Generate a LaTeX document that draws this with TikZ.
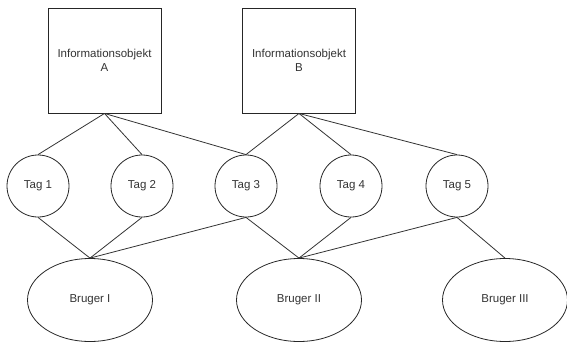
\documentclass[tikz,border=0pt]{standalone}
\usepackage{fontspec}
\setmainfont{Liberation Sans}
\usetikzlibrary{shapes.geometric}
\begin{document}
\begin{tikzpicture}[x=1pt,y=-1pt,
  every node/.style={font=\fontsize{11.5}{13.5}\selectfont, text=black!80, inner sep=0pt},
  obj/.style={draw=black!85, line width=0.9pt, rectangle, minimum width=113pt, minimum height=105pt, align=center},
  tagc/.style={draw=black!85, line width=0.8pt, circle, minimum size=62pt},
  user/.style={draw=black!85, line width=0.8pt, ellipse, minimum width=125pt, minimum height=83pt},
  link/.style={draw=black!80, line width=0.8pt}]
\useasboundingbox (0,0) rectangle (567,343);
\node[obj] (a) at (104.5,60.5) {Informationsobjekt\\A};
\node[obj] (b) at (299,60.5) {Informationsobjekt\\B};
\node[tagc] (t1) at (38,186) {Tag 1};
\node[tagc] (t2) at (142,186) {Tag 2};
\node[tagc] (t3) at (246,186) {Tag 3};
\node[tagc] (t4) at (351,186) {Tag 4};
\node[tagc] (t5) at (457,186) {Tag 5};
\node[user] (u1) at (90,300) {Bruger I};
\node[user] (u2) at (299,300) {Bruger II};
\node[user] (u3) at (505,300) {Bruger III};
\draw[link] (a.south) -- (t1.north);
\draw[link] (a.south) -- (t2.north);
\draw[link] (a.south) -- (t3.north);
\draw[link] (b.south) -- (t3.north);
\draw[link] (b.south) -- (t4.north);
\draw[link] (b.south) -- (t5.north);
\draw[link] (t1.south) -- (u1.north);
\draw[link] (t2.south) -- (u1.north);
\draw[link] (t3.south) -- (u1.north);
\draw[link] (t3.south) -- (u2.north);
\draw[link] (t4.south) -- (u2.north);
\draw[link] (t5.south) -- (u2.north);
\draw[link] (t5.south) -- (u3.north);
\end{tikzpicture}
\end{document}
